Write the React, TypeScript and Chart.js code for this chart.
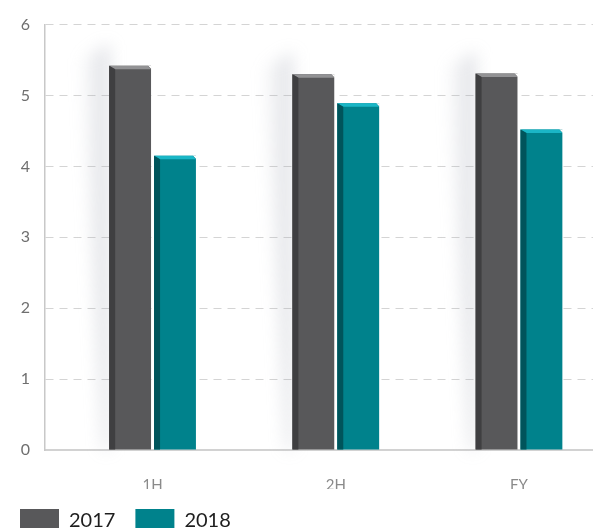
import React, { useEffect, useRef } from "react";
import { Chart, registerables } from "chart.js";

Chart.register(...registerables);

const categories = ["1H", "2H", "FY"];
const seriesLabels = ["2017", "2018"];
const values2017 = [5.42, 5.3, 5.31];
const values2018 = [4.15, 4.89, 4.52];
const yTickValues = [0, 1, 2, 3, 4, 5, 6];

const FACE = ["#58585a", "#00828c"];
const SIDE = ["#3f3f41", "#00545b"];
const TOP = ["#929294", "#1ab6c6"];

const bevelPlugin = {
  id: "bevel3d",
  beforeDatasetsDraw(chart: any) {
    const ctx = chart.ctx;
    const meta = chart.getDatasetMeta(0);
    ctx.save();
    ctx.filter = "blur(8px)";
    meta.data.forEach((bar: any) => {
      const { x, y, base, width } = bar.getProps(["x", "y", "base", "width"], true);
      const left = x - width / 2;
      const grad = ctx.createLinearGradient(left - 32, 0, left, 0);
      grad.addColorStop(0, "rgba(180,184,195,0)");
      grad.addColorStop(1, "rgba(160,165,178,0.38)");
      ctx.fillStyle = grad;
      ctx.beginPath();
      ctx.moveTo(left, y - 22);
      ctx.lineTo(left - 28, y - 6);
      ctx.lineTo(left - 6, base);
      ctx.lineTo(left, base);
      ctx.closePath();
      ctx.fill();
    });
    ctx.restore();
  },
  afterDatasetsDraw(chart: any) {
    const ctx = chart.ctx;
    chart.data.datasets.forEach((_ds: any, di: number) => {
      const meta = chart.getDatasetMeta(di);
      meta.data.forEach((bar: any) => {
        const { x, y, base, width } = bar.getProps(["x", "y", "base", "width"], true);
        const l = x - width / 2;
        const r = x + width / 2;
        const sw = 6;
        const th = 3.5;
        ctx.save();
        ctx.fillStyle = "#ffffff";
        ctx.beginPath();
        ctx.moveTo(r - 3, y);
        ctx.lineTo(r + 0.5, y);
        ctx.lineTo(r + 0.5, y + th);
        ctx.closePath();
        ctx.fill();
        ctx.fillStyle = TOP[di];
        ctx.beginPath();
        ctx.moveTo(l, y);
        ctx.lineTo(r - 3, y);
        ctx.lineTo(r, y + th);
        ctx.lineTo(l + sw, y + th);
        ctx.closePath();
        ctx.fill();
        ctx.fillStyle = SIDE[di];
        ctx.beginPath();
        ctx.moveTo(l, y);
        ctx.lineTo(l + sw, y + th);
        ctx.lineTo(l + sw, base);
        ctx.lineTo(l, base);
        ctx.closePath();
        ctx.fill();
        ctx.restore();
      });
    });
  },
};

export default function App() {
  const canvasRef = useRef<HTMLCanvasElement | null>(null);

  useEffect(() => {
    if (!canvasRef.current) return;
    const chart = new Chart(canvasRef.current, {
      type: "bar",
      data: {
        datasets: [
          {
            label: seriesLabels[0],
            data: values2017.map((v, i) => ({ x: i, y: v })),
            backgroundColor: FACE[0],
            borderWidth: 0,
          },
          {
            label: seriesLabels[1],
            data: values2018.map((v, i) => ({ x: i, y: v })),
            backgroundColor: FACE[1],
            borderWidth: 0,
          },
        ],
      },
      options: {
        responsive: false,
        animation: false,
        devicePixelRatio: 1,
        categoryPercentage: 0.49,
        barPercentage: 0.933,
        layout: { padding: { top: 21, left: 0, right: 0, bottom: 0 } },
        scales: {
          x: {
            type: "linear",
            offset: false,
            min: -0.587,
            max: 2.404,
            afterBuildTicks: (scale: any) => {
              scale.ticks = categories.map((_c, i) => ({ value: i }));
            },
            afterFit: (scale: any) => {
              scale.height = 39;
            },
            grid: { display: false, drawTicks: false, offset: false },
            border: { display: true, color: "#d2d2d2", width: 2 },
            ticks: {
              autoSkip: false,
              padding: 26,
              color: "#8a8a8a",
              font: { family: "Lato", size: 15 },
              callback: (v: any) => categories[v] ?? "",
            },
          },
          y: {
            min: 0,
            max: 6,
            afterBuildTicks: (scale: any) => {
              scale.ticks = yTickValues.map((v) => ({ value: v }));
            },
            afterFit: (scale: any) => {
              scale.width = 45;
            },
            grid: { color: "#d4d4d4", lineWidth: 1, drawTicks: false },
            border: { display: true, color: "#c8c8c8", width: 1.5, dash: [8, 6] },
            ticks: {
              padding: 15,
              color: "#6f6f6f",
              font: { family: "Lato", size: 16 },
            },
          },
        },
        plugins: {
          tooltip: { enabled: false },
          legend: {
            position: "bottom",
            align: "start",
            labels: {
              boxWidth: 39,
              boxHeight: 24,
              padding: 20,
              color: "#1e1e1e",
              font: { family: "Lato", size: 20 },
            },
          },
        },
      },
      plugins: [bevelPlugin],
    } as any);
    return () => chart.destroy();
  }, []);

  return (
    <div
      style={{
        position: "absolute",
        left: 0,
        top: 0,
        width: 593,
        height: 528,
        overflow: "hidden",
        background: "#ffffff",
      }}
    >
      <canvas ref={canvasRef} width={593} height={543} style={{ display: "block" }} />
    </div>
  );
}
